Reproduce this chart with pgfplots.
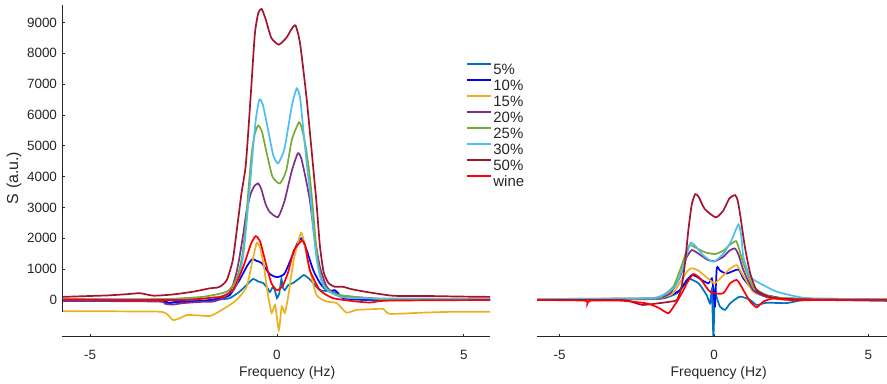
\documentclass[border=0pt]{standalone}
\usepackage{pgfplots}
\pgfplotsset{compat=1.18}
\usepackage{fontspec}
\setmainfont{Liberation Sans}
\definecolor{c5}{HTML}{0072BD}
\definecolor{c10}{HTML}{0000FF}
\definecolor{c15}{HTML}{EDB120}
\definecolor{c20}{HTML}{7E2F8E}
\definecolor{c25}{HTML}{77AC30}
\definecolor{c30}{HTML}{4DBEEE}
\definecolor{c50}{HTML}{A2142F}
\definecolor{cw}{HTML}{FF0000}
\definecolor{axc}{RGB}{38,38,38}
\pgfplotsset{
  base/.style={
    scale only axis,
    height=331.5bp,
    ymin=-1200, ymax=9550,
    axis x line*=bottom,
    axis line style={draw=none},
    tick align=inside,
    major tick length=3bp,
    tick style={axc, line width=0.8bp},
    xtick={-5,0,5}, xticklabels={-5,0,5},
    ticklabel style={font=\fontsize{13.5}{15}\selectfont, text=axc},
    xticklabel style={yshift=-10bp},
    label style={font=\fontsize{14}{16}\selectfont, text=axc},
    every axis plot/.append style={line width=1.7bp, smooth, tension=0.35},
    clip=true,
  }
}
\begin{document}
\begin{tikzpicture}
\useasboundingbox (0,0) rectangle (887bp,384bp);
\begin{axis}[base,
  at={(62bp,47bp)}, anchor=south west,
  width=428bp,
  xmin=-5.75, xmax=5.7,
  axis y line*=left,
  ytick={0,1000,...,9000},
  yticklabels={0,1000,2000,3000,4000,5000,6000,7000,8000,9000},
  yticklabel style={xshift=-1.5bp},
  xlabel={Frequency (Hz)},
  xlabel style={at={(rel axis cs:0.526,0)}, anchor=center, yshift=-36bp},
  ylabel={S (a.u.)},
  ylabel style={at={(rel axis cs:-0.112,0.48)}, anchor=center, font=\fontsize{16}{18}\selectfont},
  legend style={at={(0.944,0.83)}, anchor=north west, draw=none, fill=none,
    inner sep=0pt, font=\fontsize{15}{17}\selectfont, text=axc,
    nodes={inner sep=1.5bp, text height=10.5bp, text depth=2.5bp},
    row sep=0pt},
  legend cell align=left,
  legend image code/.code={\draw[#1] (0bp,6bp) -- (24bp,6bp);},
]
% 5%
\addplot[c5] coordinates {(-5.75,0) (-4,0) (-3.1,0) (-2.9,-80) (-2.6,-50) (-2,-30) (-1.5,20) (-1.26,60) (-1.0,270) (-0.8,500) (-0.64,680) (-0.5,600) (-0.37,550) (-0.25,380) (-0.19,260) (-0.1,430) (-0.03,200) (0,60) (0.06,200) (0.12,680) (0.16,400) (0.21,320) (0.3,480) (0.43,550) (0.6,700) (0.72,810) (0.85,700) (0.97,550) (1.15,320) (1.5,270) (1.65,150) (1.77,60) (2.3,0) (3.5,0) (5.75,10)};
\addlegendentry{5\%}
% 10%
\addplot[c10] coordinates {(-5.75,0) (-4,-20) (-3.1,-30) (-2.9,-100) (-2.6,-60) (-2,-30) (-1.5,60) (-1.26,160) (-1.0,650) (-0.8,1100) (-0.66,1330) (-0.55,1270) (-0.41,1200) (-0.2,850) (0,740) (0.2,850) (0.4,1400) (0.55,1850) (0.66,2000) (0.8,1600) (0.97,970) (1.15,550) (1.3,350) (1.45,300) (1.55,320) (1.65,200) (1.77,60) (2.2,20) (3,20) (5.75,20)};
\addlegendentry{10\%}
% 15%
\addplot[c15] coordinates {(-5.75,-360) (-4,-370) (-3.13,-380) (-2.95,-450) (-2.78,-650) (-2.6,-590) (-2.41,-490) (-2.1,-500) (-1.79,-520) (-1.61,-420) (-1.34,-220) (-1.08,0) (-0.81,430) (-0.65,1300) (-0.54,1850) (-0.45,1700) (-0.35,1100) (-0.24,160) (-0.14,-420) (-0.05,-160) (0.05,-970) (0.13,-210) (0.21,-420) (0.3,100) (0.45,1300) (0.64,2170) (0.72,1900) (0.88,970) (1.06,160) (1.33,-50) (1.6,-100) (1.86,-410) (2.13,-320) (2.5,-300) (2.84,-290) (3.02,-450) (3.9,-410) (4.8,-380) (5.75,-380)};
\addlegendentry{15\%}
% 20%
\addplot[c20] coordinates {(-5.75,-30) (-3.2,-50) (-3.0,-120) (-2.8,-150) (-2.5,-100) (-2,-60) (-1.7,-50) (-1.44,60) (-1.3,200) (-1.18,480) (-1.08,900) (-1.0,1400) (-0.9,2150) (-0.81,2900) (-0.7,3450) (-0.6,3700) (-0.5,3780) (-0.42,3600) (-0.3,3100) (-0.19,2850) (0.03,2690) (0.2,3200) (0.4,4200) (0.56,4760) (0.65,4600) (0.76,4000) (0.88,3240) (1.0,2100) (1.15,1070) (1.33,430) (1.55,200) (1.77,130) (2.5,60) (3,30) (5.75,20)};
\addlegendentry{20\%}
% 25%
\addplot[c25] coordinates {(-5.75,30) (-3.1,30) (-2.5,60) (-2,100) (-1.7,160) (-1.44,230) (-1.3,300) (-1.15,520) (-1.02,900) (-0.92,1500) (-0.84,2400) (-0.76,3600) (-0.68,4700) (-0.6,5350) (-0.5,5660) (-0.4,5450) (-0.28,4800) (-0.12,4000) (0.08,3780) (0.25,4200) (0.4,5200) (0.59,5760) (0.68,5500) (0.78,4900) (0.88,4000) (0.96,3000) (1.03,2000) (1.1,1200) (1.2,650) (1.32,380) (1.5,230) (1.68,160) (2.4,60) (3,30) (5.75,30)};
\addlegendentry{25\%}
% 30%
\addplot[c30] coordinates {(-5.75,30) (-3,20) (-2,40) (-1.7,80) (-1.48,120) (-1.34,180) (-1.2,300) (-1.08,520) (-0.97,950) (-0.88,1650) (-0.8,2650) (-0.72,3750) (-0.64,4900) (-0.56,5900) (-0.47,6500) (-0.38,6350) (-0.25,5600) (-0.1,4700) (0.03,4430) (0.2,4900) (0.4,6300) (0.53,6860) (0.62,6550) (0.7,5600) (0.8,4400) (0.9,3300) (0.98,2200) (1.06,1350) (1.15,780) (1.25,450) (1.4,260) (1.68,110) (2,60) (3,50) (5.75,40)};
\addlegendentry{30\%}
% 50%
\addplot[c50] coordinates {(-5.75,100) (-5,130) (-4.5,150) (-4,190) (-3.66,220) (-3.3,140) (-2.78,180) (-2.24,270) (-1.79,380) (-1.61,400) (-1.5,450) (-1.34,650) (-1.18,1300) (-1.04,2590) (-0.95,3450) (-0.84,4300) (-0.77,5400) (-0.68,7020) (-0.59,8640) (-0.5,9300) (-0.41,9440) (-0.3,9100) (-0.15,8500) (0.05,8280) (0.25,8500) (0.4,8800) (0.5,8900) (0.62,8310) (0.8,6470) (0.97,4300) (1.06,3130) (1.15,1750) (1.25,900) (1.38,550) (1.55,430) (1.76,430) (2.0,350) (2.4,260) (3.0,150) (3.3,130) (4,130) (4.5,120) (5,110) (5.75,100)};
\addlegendentry{50\%}
% wine
\addplot[cw] coordinates {(-5.75,20) (-4,0) (-3,0) (-2.5,0) (-2,40) (-1.7,80) (-1.5,100) (-1.18,320) (-0.9,1080) (-0.7,1800) (-0.57,2070) (-0.45,1900) (-0.3,1200) (-0.15,550) (0,320) (0.15,450) (0.3,900) (0.45,1600) (0.66,1920) (0.75,1800) (0.88,970) (1.15,320) (1.5,60) (2.13,-50) (2.5,-80) (3,-20) (5.75,0)};
\addlegendentry{wine}
\draw[axc, line width=1.1bp] (axis cs:-5.75,-400) -- (axis cs:-5.75,9550);
\draw[axc, line width=1.1bp] (axis cs:-5.75,-1200) -- (axis cs:5.7,-1200);
\end{axis}
\begin{axis}[base,
  at={(537bp,47bp)}, anchor=south west,
  width=350bp,
  xmin=-5.73, xmax=5.6,
  axis y line=none,
  ytick=\empty,
  xlabel={Frequency (Hz)},
  xlabel style={at={(rel axis cs:0.519,0)}, anchor=center, yshift=-36bp},
]
\addplot[c5] coordinates {(-5.73,20) (-3,30) (-2,40) (-1.64,50) (-1.2,220) (-0.95,550) (-0.83,700) (-0.5,540) (-0.24,160) (-0.13,-110) (-0.07,320) (-0.02,-1190) (0.03,320) (0.08,110) (0.19,-210) (0.36,-320) (0.52,-110) (0.84,110) (1.17,0) (1.38,-160) (1.7,-90) (2.35,-100) (2.78,-20) (3.5,0) (5.6,-30)};
\addplot[c10] coordinates {(-5.73,20) (-2,30) (-1.42,160) (-1.1,320) (-0.9,600) (-0.72,810) (-0.55,750) (-0.4,650) (-0.18,540) (-0.07,700) (-0.02,320) (0.03,-210) (0.09,1030) (0.2,950) (0.41,860) (0.79,990) (0.95,700) (1.27,320) (1.6,180) (1.92,110) (2.5,40) (5.6,10)};
\addplot[c15] coordinates {(-5.73,20) (-2,40) (-1.6,100) (-1.32,220) (-1.05,650) (-0.85,950) (-0.72,1030) (-0.5,950) (-0.2,700) (0.01,540) (0.2,700) (0.5,1000) (0.73,1130) (0.85,950) (1.0,700) (1.27,270) (1.7,100) (2.3,30) (5.6,10)};
\addplot[c20] coordinates {(-5.73,20) (-2,50) (-1.6,120) (-1.37,270) (-1.1,750) (-0.9,1350) (-0.72,1620) (-0.5,1500) (-0.2,1300) (0.03,1260) (0.3,1400) (0.5,1600) (0.68,1670) (0.8,1450) (0.95,970) (1.27,320) (1.7,100) (2.3,40) (5.6,20)};
\addplot[c25] coordinates {(-5.73,30) (-2,60) (-1.64,160) (-1.32,430) (-1.1,970) (-0.9,1550) (-0.78,1780) (-0.6,1700) (-0.3,1550) (0.03,1490) (0.3,1600) (0.5,1780) (0.71,1910) (0.8,1700) (0.95,1190) (1.27,430) (1.7,160) (2.3,60) (5.6,20)};
\addplot[c30] coordinates {(-5.73,30) (-3,50) (-2,60) (-1.65,160) (-1.26,430) (-0.99,1080) (-0.85,1600) (-0.75,1860) (-0.6,1750) (-0.35,1450) (-0.02,1240) (0.3,1500) (0.55,1900) (0.79,2450) (0.88,2100) (0.95,1400) (1.17,750) (1.6,480) (2.03,270) (2.68,110) (3.2,50) (5.6,20)};
\addplot[c50] coordinates {(-5.73,0) (-3,0) (-2.6,-80) (-2.3,-160) (-1.75,-100) (-1.4,-50) (-1.2,0) (-1.05,430) (-0.94,1190) (-0.83,2270) (-0.72,3100) (-0.61,3430) (-0.5,3350) (-0.3,2950) (0.06,2680) (0.3,2900) (0.5,3300) (0.68,3400) (0.76,3250) (0.84,2810) (1.0,1720) (1.17,870) (1.38,320) (1.81,100) (2.5,30) (5.6,0)};
\addplot[cw] coordinates {(-5.73,0) (-4.2,-20) (-4.1,-120) (-4.0,-20) (-3.04,-20) (-2.18,-110) (-1.8,-250) (-1.48,-430) (-1.3,-200) (-1.2,-50) (-1.0,300) (-0.88,540) (-0.67,840) (-0.45,700) (-0.18,320) (-0.02,220) (0.3,220) (0.52,540) (0.73,650) (0.85,500) (0.95,320) (1.17,-50) (1.38,-240) (1.6,-50) (1.92,50) (2.5,0) (5.6,0)};
\draw[axc, line width=1.1bp] (axis cs:-5.73,-1200) -- (axis cs:5.6,-1200);
\end{axis}
\end{tikzpicture}
\end{document}
